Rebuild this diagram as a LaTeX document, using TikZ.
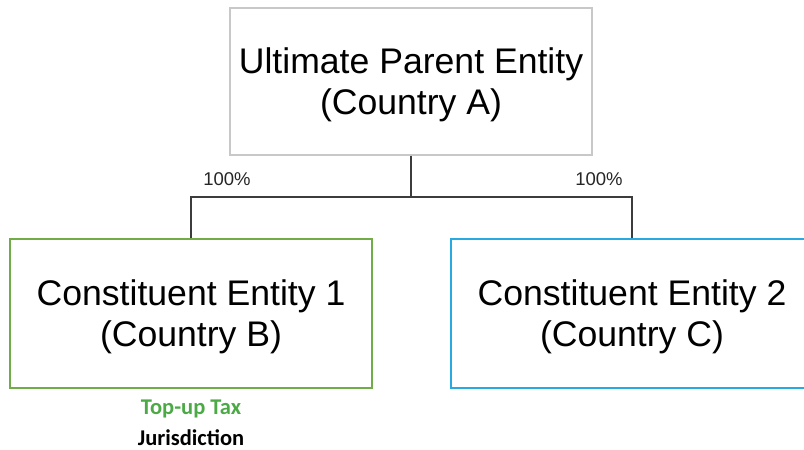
\documentclass[tikz,border=0pt]{standalone}
\usepackage{fontspec}
\setmainfont{Liberation Sans}
\newfontfamily\notefont{Carlito}
\definecolor{boxgray}{RGB}{200,200,200}
\definecolor{entgreen}{RGB}{112,173,71}
\definecolor{entblue}{RGB}{40,170,225}
\definecolor{taxgreen}{RGB}{76,170,70}
\definecolor{linegray}{RGB}{60,60,60}
\begin{document}
\begin{tikzpicture}[x=1pt,y=-1pt,
  entity/.style={draw, line width=1.3pt, minimum width=362pt, inner sep=0pt},
  entitytext/.style={align=center, inner sep=0pt,
    font=\fontsize{35.6}{41}\selectfont, text=black},
  link/.style={draw=linegray, line width=1.4pt},
  share/.style={font=\fontsize{18.5}{22}\selectfont, text=black!85},
  note/.style={font=\notefont\bfseries\fontsize{22.5}{24}\selectfont}]
  \useasboundingbox (0,0) rectangle (804,450);
  \clip (0,0) rectangle (804,450);

  % ownership boxes
  \node[entity, draw=boxgray, minimum height=147pt] (upe) at (411,81.5) {};
  \node[entity, draw=entgreen, minimum height=149pt] (ce1) at (191,313.5) {};
  \node[entity, draw=entblue, minimum height=149pt] (ce2) at (632,313.5) {};

  % box captions
  \node[entitytext] (upet) at ([yshift=-3.5pt]upe.center)
    {Ultimate Parent Entity\\(Country A)};
  \node[entitytext] (ce1t) at ([yshift=-3pt]ce1.center)
    {Constituent Entity 1\\(Country B)};
  \node[entitytext] (ce2t) at ([yshift=-3pt]ce2.center)
    {Constituent Entity 2\\(Country C)};

  % ownership tree
  \coordinate (bus) at (411,197);
  \draw[link] (upe.south) -- (bus);
  \draw[link] (ce1.north) |- (bus) -| (ce2.north);

  % shareholding labels
  \node[share] (p1) at (227,179) {100\%};
  \node[share] (p2) at (599,179) {100\%};

  % jurisdiction note
  \node[note, text=taxgreen] (tax) at (191,409) {Top-up Tax};
  \node[note, text=black] (jur) at (191,438) {Jurisdiction};
\end{tikzpicture}
\end{document}
